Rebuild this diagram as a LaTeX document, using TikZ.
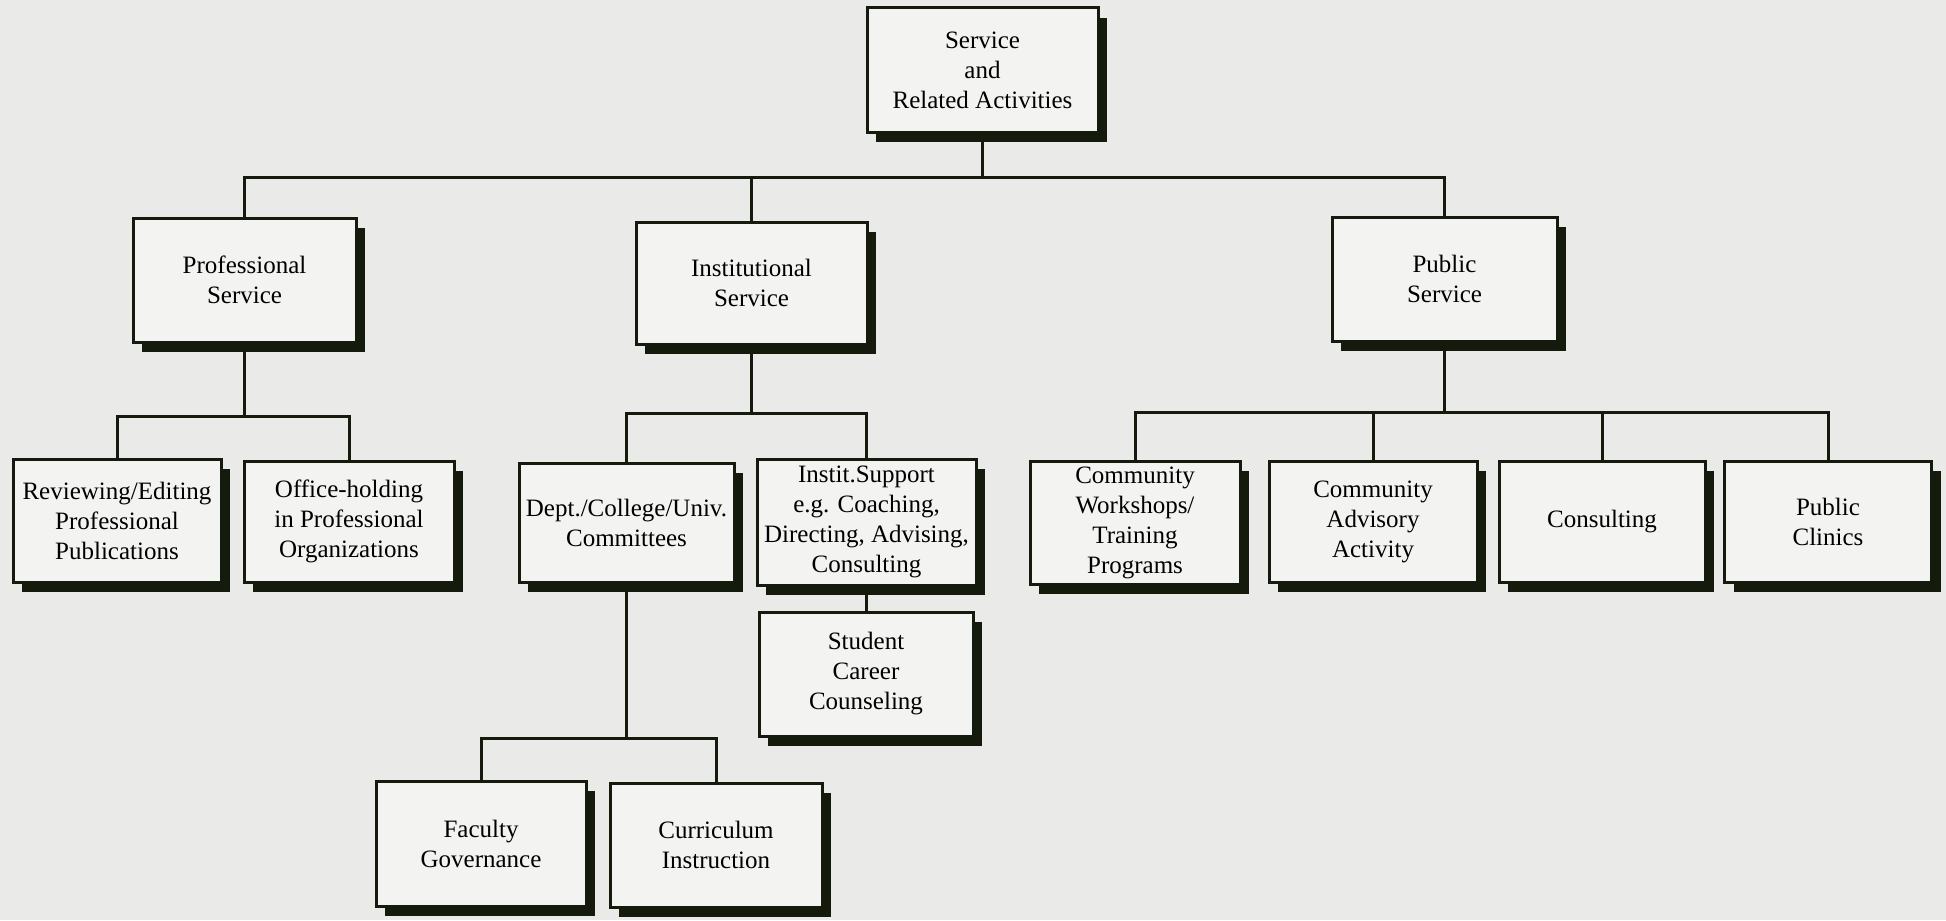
\documentclass[tikz,border=0pt]{standalone}
\usepackage{fontspec}
\setmainfont{Liberation Serif}
\usetikzlibrary{shadows}

\definecolor{paper}{RGB}{234,234,232}
\definecolor{boxfill}{RGB}{243,243,241}
\definecolor{ink}{RGB}{20,26,12}

\tikzset{
  unit/.style={draw=ink, line width=1.5pt, fill=boxfill, align=center, inner sep=0.5pt,
    font=\fontsize{12.5}{15}\selectfont,
    drop shadow={shadow xshift=4.5pt, shadow yshift=-5pt, fill=ink, opacity=1}},
  link/.style={draw=ink, line width=1.5pt},
}

\begin{document}
\begin{tikzpicture}[x=0.5pt, y=-0.5pt]
  \useasboundingbox (0,0) rectangle (1946,920);
  \fill[paper] (0,0) rectangle (1946,920);
  % levels of the tree (pixel rows)
  \coordinate (busA) at (0,177);
  \coordinate (busP) at (0,416);
  \coordinate (busI) at (0,413);
  \coordinate (busU) at (0,412);
  \coordinate (busD) at (0,738);

  \node[unit, minimum width=115.5pt, minimum height=62pt] (root) at (982.5,70) {Service\\and\\Related Activities};

  \node[unit, minimum width=111.5pt, minimum height=62pt] (prof) at (244.5,280) {Professional\\Service};
  \node[unit, minimum width=115.5pt, minimum height=61pt] (inst) at (751.5,283) {Institutional\\Service};
  \node[unit, minimum width=112.5pt, minimum height=62pt] (pub)  at (1444.5,279) {Public\\Service};

  \node[unit, minimum width=104pt, minimum height=61.5pt] (rev) at (117,520.5) {Reviewing/Editing\\Professional\\Publications};
  \node[unit, minimum width=105pt, minimum height=60.5pt] (off) at (349,521.5) {Office-holding\\in Professional\\Organizations};

  \node[unit, minimum width=107.5pt, minimum height=59.5pt] (dept) at (626.5,522.5) {Dept./College/Univ.\\Committees};
  \node[unit, minimum width=109.5pt, minimum height=63pt] (isup) at (866.5,522) {Instit.Support\\e.g. Coaching,\\Directing, Advising,\\Consulting};
  \node[unit, minimum width=107pt, minimum height=62pt] (stud) at (866,674) {Student\\Career\\Counseling};
  \node[unit, minimum width=105pt, minimum height=62.5pt] (fac) at (481,843.5) {Faculty\\Governance};
  \node[unit, minimum width=106pt, minimum height=62pt] (cur) at (716,845) {Curriculum\\Instruction};

  \node[unit, minimum width=105pt, minimum height=61.5pt] (wksh) at (1135,522.5) {Community\\Workshops/\\Training\\Programs};
  \node[unit, minimum width=104pt, minimum height=60.5pt] (adv)  at (1373,521.5) {Community\\Advisory\\Activity};
  \node[unit, minimum width=103pt, minimum height=60.5pt] (cons) at (1602,521.5) {Consulting};
  \node[unit, minimum width=103.5pt, minimum height=60.5pt] (clin) at (1828,521.5) {Public\\Clinics};

  % connectors
  \foreach \c in {prof,inst,pub}
    \draw[link] (root.south) -- (root.south |- busA) -| (\c.north);
  \foreach \c in {rev,off}
    \draw[link] (prof.south) -- (prof.south |- busP) -| (\c.north);
  \foreach \c in {dept,isup}
    \draw[link] (inst.south) -- (inst.south |- busI) -| (\c.north);
  \foreach \c in {wksh,adv,cons,clin}
    \draw[link] (pub.south) -- (pub.south |- busU) -| (\c.north);
  \foreach \c in {fac,cur}
    \draw[link] (dept.south) -- (dept.south |- busD) -| (\c.north);
  \draw[link] (isup.south) -- (isup.south |- stud.north);
\end{tikzpicture}
\end{document}
